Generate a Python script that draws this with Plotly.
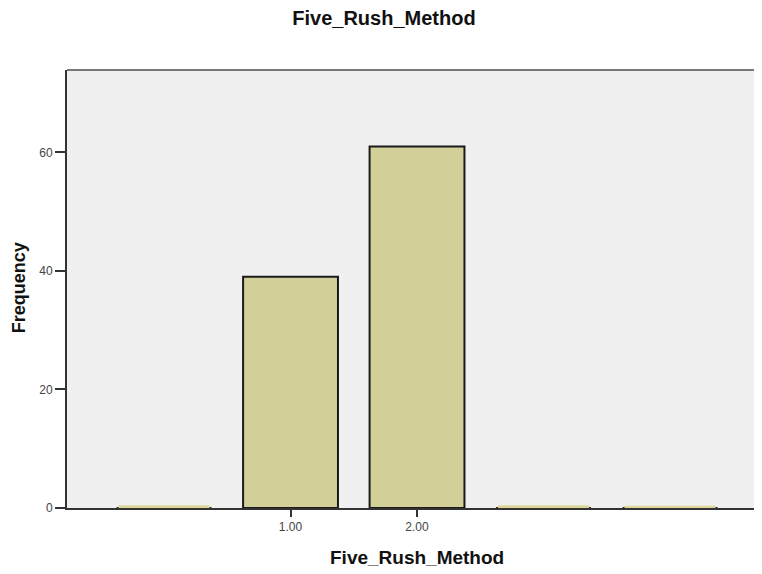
import plotly.graph_objects as go

# Data
bin_center = [0, 1, 2, 3, 4]
frequency = [0, 39, 61, 0, 0]
ghost_heights = [0.45, 0, 0, 0.45, 0.4]  # faint residual marks visible near zero
tick_values = [1, 2]
tick_labels = ["1.00", "2.00"]

fill = "#d3cf98"
font_family = "Liberation Sans, Arial, sans-serif"

fig = go.Figure()
fig.add_trace(go.Bar(
    x=bin_center, y=frequency, width=0.75,
    marker=dict(color=fill, line=dict(color="#1a1a1a", width=2)),
    showlegend=False,
))
fig.add_trace(go.Bar(
    x=bin_center, y=ghost_heights, width=0.72,
    marker=dict(color="#ddd89a", line=dict(width=0)),
    hoverinfo="skip", showlegend=False,
))

fig.update_layout(
    width=762, height=574,
    margin=dict(l=59, r=8, t=62, b=74),
    barmode="overlay",
    paper_bgcolor="white",
    plot_bgcolor="#f0f0f0",
    font=dict(family=font_family, color="#222"),
    title=dict(text="<b>Five_Rush_Method</b>", x=0.4934, xanchor="center", xref="container",
               y=0.982, yref="container", yanchor="middle", font=dict(size=20, color="#111")),
    xaxis=dict(
        range=[-0.767, 4.727], showgrid=False, zeroline=False,
        tickmode="array", tickvals=tick_values, ticktext=tick_labels,
        ticks="outside", ticklen=7, tickcolor="#333", tickwidth=2,
        showline=True, linecolor="#333", linewidth=2,
        tickfont=dict(size=12, color="#444"),
    ),
    yaxis=dict(
        range=[0, 73.9], showgrid=False, zeroline=False,
        tickvals=[0, 20, 40, 60],
        ticks="outside", ticklen=10, tickcolor="#333", tickwidth=2,
        showline=True, linecolor="#333", linewidth=2,
        tickfont=dict(size=12, color="#444"),
    ),
    annotations=[
        dict(text="<b>Five_Rush_Method</b>", xref="paper", yref="paper",
             x=0.504, y=-0.112, xanchor="center", yanchor="middle", showarrow=False,
             font=dict(size=19, color="#111")),
        dict(text="<b>Frequency</b>", xref="paper", yref="paper",
             x=-0.069, y=0.502, xanchor="center", yanchor="middle", showarrow=False,
             textangle=-90, font=dict(size=18, color="#111")),
    ],
    shapes=[dict(type="line", xref="paper", yref="paper", x0=0, x1=1, y0=1, y1=1,
                 line=dict(color="#777", width=2))],
)

fig.write_html("out.html")
